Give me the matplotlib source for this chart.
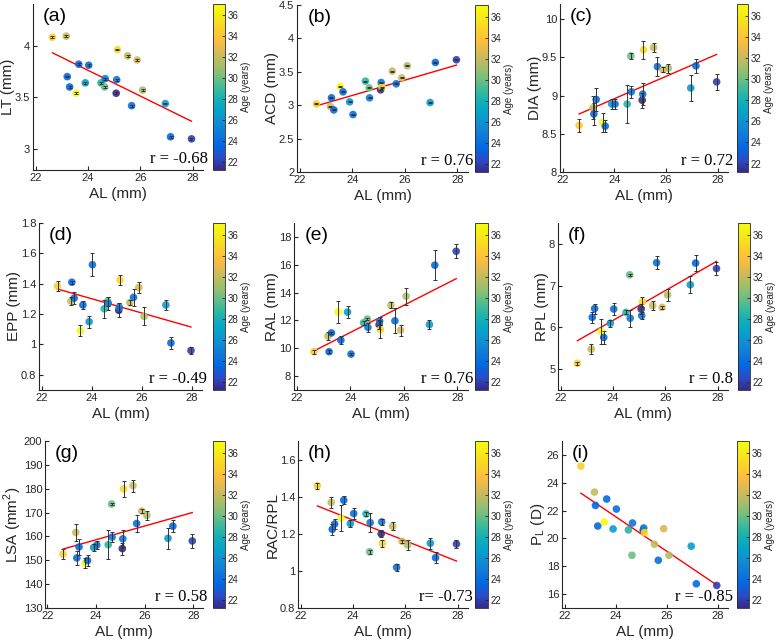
import numpy as np
import matplotlib
matplotlib.use('Agg')
import matplotlib.pyplot as plt
from matplotlib.colors import LinearSegmentedColormap, Normalize
from matplotlib.cm import ScalarMappable
from matplotlib.ticker import FormatStrFormatter

# axial length and age of the 21 eyes (same in every panel)
AL = [22.64, 23.17, 23.21, 23.30, 23.55, 23.65, 23.90, 24.03, 24.50, 24.64, 24.66,
      25.08, 25.10, 25.13, 25.52, 25.67, 25.88, 26.09, 26.96, 27.16, 27.96]
age = [34.5, 32.0, 23.5, 23.5, 37.0, 23.5, 26.5, 24.0, 28.5, 30.0, 24.5,
       21.2, 24.5, 35.0, 32.0, 24.0, 32.5, 31.5, 26.5, 23.5, 22.0]

LT = [4.08, 4.09, 3.70, 3.60, 3.54, 3.82, 3.64, 3.81, 3.64, 3.60, 3.68,
      3.54, 3.67, 3.96, 3.90, 3.42, 3.86, 3.57, 3.44, 3.12, 3.10]
LT_err = [0.008] * 21
ACD = [3.02, 2.98, 3.11, 2.93, 3.28, 3.20, 3.05, 2.86, 3.36, 3.26, 3.11,
       3.23, 3.34, 3.27, 3.51, 3.32, 3.41, 3.59, 3.04, 3.64, 3.68]
ACD_err = [0.008] * 21
DIA = [8.61, 8.84, 8.76, 8.95, 8.65, 8.60, 8.89, 8.89, 8.89, 9.52, 9.05,
       8.94, 9.02, 9.60, 9.63, 9.38, 9.34, 9.36, 9.10, 9.39, 9.18]
DIA_err = [0.08, 0.15, 0.14, 0.15, 0.12, 0.08, 0.06, 0.06, 0.25, 0.04, 0.08,
           0.10, 0.14, 0.12, 0.06, 0.12, 0.03, 0.06, 0.17, 0.09, 0.10]
EPP = [1.385, 1.285, 1.41, 1.305, 1.09, 1.26, 1.15, 1.525, 1.235, 1.285, 1.27,
       1.225, 1.245, 1.425, 1.275, 1.31, 1.375, 1.185, 1.26, 1.01, 0.96]
EPP_err = [0.03, 0.025, 0.01, 0.04, 0.035, 0.025, 0.04, 0.075, 0.06, 0.03, 0.04,
           0.045, 0.03, 0.035, 0.015, 0.055, 0.035, 0.06, 0.03, 0.04, 0.025]
RAL = [9.75, 10.87, 9.75, 11.1, 12.6, 10.58, 12.6, 9.58, 11.83, 12.1, 11.5,
       11.7, 11.95, 11.35, 13.1, 11.97, 11.3, 13.74, 11.7, 15.97, 16.97]
RAL_err = [0.15, 0.3, 0.1, 0.1, 0.8, 0.3, 0.45, 0.1, 0.15, 0.1, 0.35,
           0.3, 0.3, 0.6, 0.2, 0.9, 0.4, 0.6, 0.35, 1.1, 0.5]
RPL = [5.14, 5.48, 6.24, 6.45, 5.90, 5.76, 6.10, 6.44, 6.36, 7.26, 6.22,
       6.44, 6.28, 6.61, 6.52, 7.55, 6.48, 6.78, 7.02, 7.54, 7.41]
RPL_err = [0.03, 0.12, 0.14, 0.12, 0.3, 0.15, 0.08, 0.14, 0.05, 0.03, 0.2,
           0.12, 0.08, 0.12, 0.1, 0.15, 0.04, 0.14, 0.2, 0.2, 0.15]
LSA = [152.6, 161.7, 151.0, 155.6, 148.8, 149.9, 155.4, 156.4, 156.5, 173.6, 159.7,
       154.9, 159.0, 179.9, 181.3, 165.4, 170.6, 168.8, 159.2, 164.3, 158.1]
LSA_err = [2, 3.5, 3, 3.5, 2, 2.5, 1.5, 1.5, 6, 0.6, 2,
           2.5, 3.5, 3.5, 2.5, 3.5, 0.8, 2, 4.5, 2.5, 3]
RAC_RPL = [1.459, 1.369, 1.224, 1.253, 1.284, 1.381, 1.255, 1.309, 1.307, 1.103, 1.26,
           1.20, 1.264, 1.149, 1.241, 1.019, 1.159, 1.14, 1.149, 1.071, 1.145]
RAC_RPL_err = [0.015, 0.03, 0.03, 0.025, 0.07, 0.02, 0.02, 0.03, 0.01, 0.01, 0.05,
               0.02, 0.015, 0.02, 0.02, 0.02, 0.01, 0.025, 0.03, 0.03, 0.02]
PL = [25.19, 23.33, 22.37, 20.89, 21.18, 22.83, 20.68, 22.11, 20.61, 18.79, 21.11,
      20.58, 20.75, 20.42, 19.58, 18.43, 20.70, 18.79, 19.44, 16.74, 16.62]

# regression line ends (AL from 22.64 to 27.96)
fit_x = [22.64, 27.96]
LT_fit = [3.93, 3.27]
ACD_fit = [2.99, 3.60]
DIA_fit = [8.76, 9.54]
EPP_fit = [1.365, 1.115]
RAL_fit = [9.8, 15.0]
RPL_fit = [5.68, 7.58]
LSA_fit = [154.7, 170.0]
RAC_RPL_fit = [1.35, 1.053]
PL_fit = [23.25, 16.65]

r_labels = ['r = -0.68', 'r = 0.76', 'r = 0.72', 'r = -0.49', 'r = 0.76',
            'r = 0.8', 'r = 0.58', 'r= -0.73', 'r = -0.85']

# parula-like colormap
parula = LinearSegmentedColormap.from_list('parula', [
    (0.2081, 0.1663, 0.5292), (0.1707, 0.2919, 0.7792), (0.0060, 0.4086, 0.8828),
    (0.0629, 0.4737, 0.8554), (0.0641, 0.5570, 0.8240), (0.0231, 0.6418, 0.7913),
    (0.0843, 0.6928, 0.7062), (0.2586, 0.7317, 0.5954), (0.4871, 0.7491, 0.4840),
    (0.6834, 0.7435, 0.4044), (0.8507, 0.7299, 0.3360), (0.9938, 0.7455, 0.2403),
    (0.9789, 0.8271, 0.1633), (0.9598, 0.9218, 0.0948), (0.9763, 0.9831, 0.0538)])
norm = Normalize(21.2, 37.1)

W, H = 779, 643
def px(l, r, t, b):
    return [l / W, 1 - b / H, (r - l) / W, (b - t) / H]

gray = '#262626'
panels = [
    ('(a)', 'LT (mm)', LT, LT_err, LT_fit, (2.8, 4.4), [3, 3.5, 4], (33, 203, 4, 170), (213, 225)),
    ('(b)', 'ACD (mm)', ACD, ACD_err, ACD_fit, (2, 4.5), [2, 2.5, 3, 3.5, 4, 4.5], (297, 468, 5, 172), (475, 488)),
    ('(c)', 'DIA (mm)', DIA, DIA_err, DIA_fit, (8, 10.2), [8, 8.5, 9, 9.5, 10], (560, 728, 4, 172), (737, 748)),
    ('(d)', 'EPP (mm)', EPP, EPP_err, EPP_fit, (0.7, 1.8), [0.8, 1, 1.2, 1.4, 1.6, 1.8], (39, 202, 223, 390), (213, 225)),
    ('(e)', 'RAL (mm)', RAL, RAL_err, RAL_fit, (7, 19), [8, 10, 12, 14, 16, 18], (294, 468, 223, 390), (475, 488)),
    ('(f)', 'RPL (mm)', RPL, RPL_err, RPL_fit, (4.5, 8.5), [5, 6, 7, 8], (558, 728, 223, 390), (738, 750)),
    ('(g)', 'LSA (mm$^2$)', LSA, LSA_err, LSA_fit, (130, 200), list(range(130, 201, 10)), (45, 203, 441, 608), (213, 225)),
    ('(h)', 'RAC/RPL', RAC_RPL, RAC_RPL_err, RAC_RPL_fit, (0.8, 1.7), [0.8, 1, 1.2, 1.4, 1.6], (298, 468, 441, 608), (475, 488)),
    ('(i)', 'P$_\\mathrm{L}$ (D)', PL, None, PL_fit, (15, 27), [16, 18, 20, 22, 24, 26], (562, 728, 441, 608), (737, 749)),
]

fig = plt.figure(figsize=(W / 100, H / 100), dpi=100)
plt.rcParams['font.family'] = ['Liberation Sans', 'DejaVu Sans']
plt.rcParams['mathtext.fontset'] = 'custom'
plt.rcParams['mathtext.rm'] = 'Liberation Sans'

for k, (letter, ylab, vals, errs, fit, ylim, yt, box, cbx) in enumerate(panels):
    l, r, t, b = box
    ax = fig.add_axes(px(l, r, t, b))
    ax.plot(fit_x, fit, color='red', lw=1.0, zorder=2)
    ax.scatter(AL, vals, c=age, cmap=parula, norm=norm, s=30, edgecolors='none', alpha=0.9, zorder=3)
    if errs is not None:
        ax.errorbar(AL, vals, yerr=errs, fmt='none', ecolor='#333333', elinewidth=0.7,
                    capsize=1.5, capthick=0.7, zorder=4)
    ax.set_xlim(21.9, 28.4)
    ax.set_ylim(*ylim)
    ax.set_xticks([22, 24, 26, 28])
    ax.set_yticks(yt)
    ax.yaxis.set_major_formatter(FormatStrFormatter('%g'))
    for s in ['top', 'right']:
        ax.spines[s].set_visible(False)
    for s in ['left', 'bottom']:
        ax.spines[s].set_color(gray)
        ax.spines[s].set_linewidth(0.8)
    ax.tick_params(direction='in', length=3, width=0.8, colors=gray, labelsize=8, pad=2)
    ax.set_xlabel('AL (mm)', fontsize=11, color=gray, labelpad=3)
    ax.set_ylabel(ylab, fontsize=11, color=gray, labelpad=0)
    ax.text(0.06, 0.975, letter, transform=ax.transAxes, fontsize=14, va='top', ha='left', color='black')
    ax.text(1.03, 0.04, r_labels[k], transform=ax.transAxes, fontsize=12, ha='right', va='baseline',
            family='Liberation Serif', color='black')

    cax = fig.add_axes(px(cbx[0], cbx[1], t, b))
    cb = fig.colorbar(ScalarMappable(norm=norm, cmap=parula), cax=cax)
    cb.set_ticks([22, 24, 26, 28, 30, 32, 34, 36])
    cb.outline.set_edgecolor(gray)
    cb.outline.set_linewidth(0.6)
    cax.tick_params(direction='in', length=2, width=0.6, colors=gray, labelsize=7, pad=2)
    cb.set_label('Age (years)', fontsize=7, color=gray, labelpad=2)

fig.savefig('out.png', dpi=100)
